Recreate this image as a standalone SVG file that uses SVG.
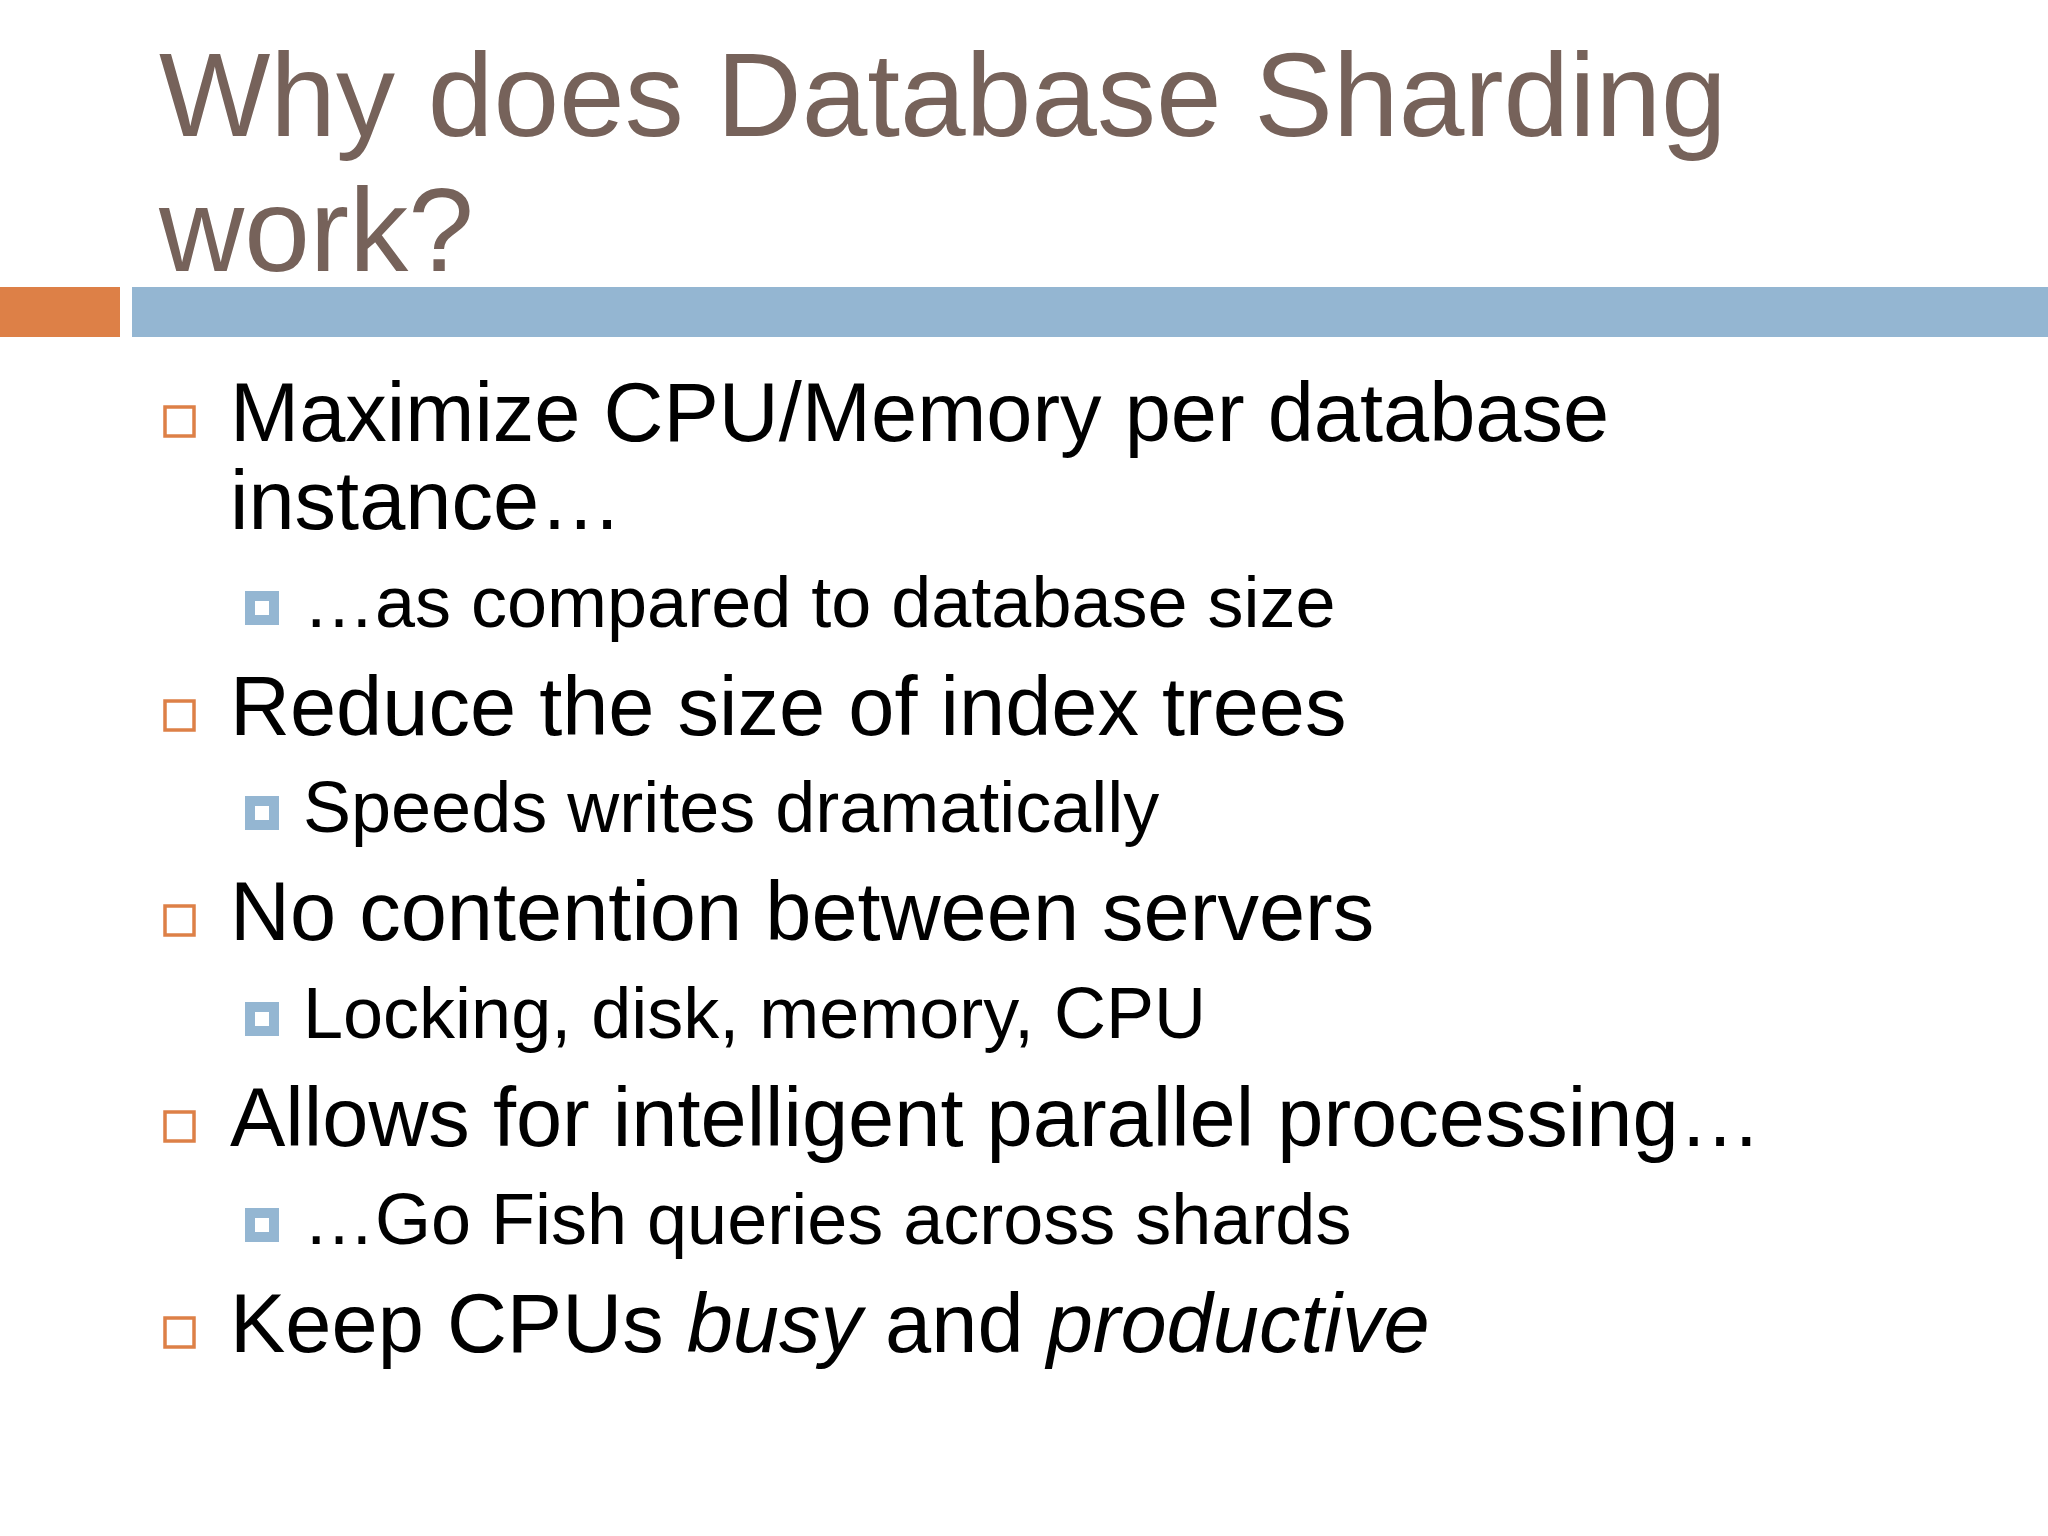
<svg xmlns="http://www.w3.org/2000/svg" width="2048" height="1536" viewBox="0 0 2048 1536">
<style>
.t{font-family:"Liberation Sans",Arial,sans-serif;fill:#76625A;font-size:118px}
.l1{font-family:"Liberation Sans",Arial,sans-serif;fill:#000;font-size:83px}
.l2{font-family:"Liberation Sans",Arial,sans-serif;fill:#000;font-size:72px}
.b1{fill:none;stroke:#DD8047;stroke-width:3.5}
.b2{fill:#94B6D2}
.b2i{fill:#fff}
</style>
<rect width="2048" height="1536" fill="#fff"/>
<g id="title"><text class="t" x="159" y="136">Why does Database Sharding</text><text class="t" x="159" y="271">work?</text></g>
<g id="bars"><rect x="0" y="287" width="120" height="50" fill="#DD8047"/><rect x="132" y="287" width="1916" height="50" fill="#94B6D2"/></g>
<g id="items">
<rect class="b1" x="165" y="407" width="29" height="29"/>
<text class="l1" x="230" y="441">Maximize CPU/Memory per database</text>
<text class="l1" x="230" y="529">instance…</text>
<rect class="b2" x="245" y="591" width="34" height="34"/><rect class="b2i" x="255" y="601" width="14" height="14"/>
<text class="l2" x="303" y="627">…as compared to database size</text>
<rect class="b1" x="165" y="701" width="29" height="29"/>
<text class="l1" x="230" y="735">Reduce the size of index trees</text>
<rect class="b2" x="245" y="796" width="34" height="34"/><rect class="b2i" x="255" y="806" width="14" height="14"/>
<text class="l2" x="303" y="832">Speeds writes dramatically</text>
<rect class="b1" x="165" y="906" width="29" height="29"/>
<text class="l1" x="230" y="940">No contention between servers</text>
<rect class="b2" x="245" y="1002" width="34" height="34"/><rect class="b2i" x="255" y="1012" width="14" height="14"/>
<text class="l2" x="303" y="1038">Locking, disk, memory, CPU</text>
<rect class="b1" x="165" y="1112" width="29" height="29"/>
<text class="l1" x="230" y="1146">Allows for intelligent parallel processing…</text>
<rect class="b2" x="245" y="1208" width="34" height="34"/><rect class="b2i" x="255" y="1218" width="14" height="14"/>
<text class="l2" x="303" y="1244">…Go Fish queries across shards</text>
<rect class="b1" x="165" y="1318" width="29" height="29"/>
<text class="l1" x="230" y="1352">Keep CPUs <tspan font-style="italic">busy</tspan> and <tspan font-style="italic">productive</tspan></text>
</g>
</svg>
